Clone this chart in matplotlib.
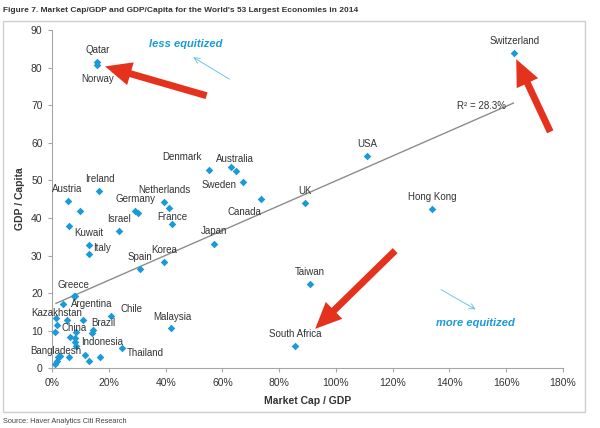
import numpy as np
import matplotlib
matplotlib.use("Agg")
import matplotlib.pyplot as plt
from matplotlib.patches import FancyArrowPatch, Rectangle

plt.rcParams['font.family'] = ['Liberation Sans', 'DejaVu Sans']

# market cap / GDP (%) and GDP per capita (k USD)
mcap_gdp = [15.9, 15.9, 162.9, 110.9, 89.1, 133.9, 90.7, 85.7, 73.7, 67.3,
            63.0, 64.7, 55.3, 57.1, 39.3, 31.0, 42.2, 39.4, 41.0, 29.2,
            30.1, 23.5, 16.6, 5.5, 9.8, 6.0, 13.0, 13.0, 7.7, 7.9,
            3.7, 1.2, 5.1, 10.8, 20.8, 1.5, 1.1, 8.4, 14.5, 14.1,
            6.4, 7.9, 7.9, 8.4, 24.5, 41.9, 11.6, 5.8, 16.9, 13.1,
            1.0, 1.5, 2.1, 2.7]
gdp_capita = [81.4, 80.7, 83.9, 56.4, 43.9, 42.4, 22.4, 5.9, 44.9, 49.5,
              53.6, 52.4, 52.7, 33.1, 28.3, 26.5, 38.4, 44.2, 42.7, 41.9,
              41.3, 36.6, 47.2, 44.4, 41.9, 37.8, 32.7, 30.5, 19.1, 19.3,
              17.1, 13.5, 12.8, 12.8, 13.9, 11.5, 9.7, 9.7, 10.2, 9.3,
              8.2, 8.1, 6.9, 6.0, 5.5, 10.6, 3.5, 3.0, 3.0, 1.9,
              1.1, 2.0, 2.9, 3.3]

# country labels and where they sit (data coords)
labels = {
    "Qatar": (15.9, 84.7), "Norway": (15.9, 76.9), "Switzerland": (162.9, 87.1),
    "USA": (110.9, 59.6), "UK": (89.1, 47.2), "Hong Kong": (133.9, 45.6),
    "Taiwan": (90.7, 25.5), "South Africa": (85.7, 9.2), "Canada": (67.6, 41.6),
    "Sweden": (58.8, 48.7), "Australia": (64.5, 55.6), "Denmark": (45.6, 56.3),
    "Japan": (57.1, 36.5), "Korea": (39.3, 31.5), "Spain": (30.9, 29.7),
    "France": (42.2, 40.3), "Netherlands": (39.5, 47.3), "Germany": (29.4, 44.9),
    "Israel": (23.5, 39.7), "Ireland": (16.6, 50.4), "Austria": (5.4, 47.6),
    "Kuwait": (12.9, 35.9), "Italy": (17.6, 31.9), "Greece": (7.5, 22.1),
    "Argentina": (13.9, 17.1), "Chile": (27.9, 15.8), "Kazakhstan": (1.5, 14.7),
    "Malaysia": (42.2, 13.6), "China": (7.8, 10.8), "Brazil": (18.0, 12.0),
    "Indonesia": (17.6, 7.1), "Thailand": (32.7, 4.0), "Bangladesh": (1.3, 4.5),
}

blue = "#1b9ad7"
red = "#e5321c"
txt = "#333333"
grey = "#a6a6a6"

fig = plt.figure(figsize=(6, 4.28), dpi=100)
ax = fig.add_axes([0.0872, 0.1395, 0.8507, 0.7906])

ax.scatter(mcap_gdp, gdp_capita, marker="D", s=15, color=blue, zorder=3, linewidths=0)

# linear trend
coef = np.polyfit(mcap_gdp, gdp_capita, 1)
xs = np.array([1.3, 162.6])
ax.plot(xs, np.polyval(coef, xs), color="#8c8c8c", lw=1, zorder=2)
ax.text(151.2, 69.8, "R\u00b2 = 28.3%", fontsize=7, color=txt, ha="center", va="center")

for name, (lx, ly) in labels.items():
    ax.text(lx, ly, name, fontsize=7, color=txt, ha="center", va="center")

# blue annotations
ax.text(47.1, 86.3, "less equitized", fontsize=8, color=blue, fontweight="bold",
        style="italic", ha="center", va="center")
ax.text(149.3, 12.1, "more equitized", fontsize=8, color=blue, fontweight="bold",
        style="italic", ha="center", va="center")
for (x0, y0), (x1, y1) in [((63.3, 76.5), (48.9, 83.1)), ((136.2, 21.3), (150.1, 15.3))]:
    ax.add_patch(FancyArrowPatch((x0, y0), (x1, y1), arrowstyle="->,head_length=4,head_width=2",
                                 color="#5bbbe8", lw=0.6, mutation_scale=1))

# red arrows
for (x0, y0), (x1, y1) in [((54.4, 72.5), (18.6, 80.3)), ((175.6, 62.9), (163.6, 82.2)),
                           ((120.9, 31.3), (92.7, 10.5))]:
    ax.add_patch(FancyArrowPatch((x0, y0), (x1, y1),
                                 arrowstyle="simple,head_length=19,head_width=17,tail_width=5",
                                 color=red, mutation_scale=1, lw=0, zorder=4, clip_on=False,
                                 shrinkA=0, shrinkB=0))

ax.set_xlim(0, 180)
ax.set_ylim(0, 90)
ax.set_xticks(range(0, 181, 20))
ax.set_xticklabels([f"{v}%" for v in range(0, 181, 20)])
ax.set_yticks(range(0, 91, 10))
for s in ["top", "right"]:
    ax.spines[s].set_visible(False)
for s in ["left", "bottom"]:
    ax.spines[s].set_color(grey)
    ax.spines[s].set_linewidth(0.8)
ax.tick_params(colors=grey, labelcolor=txt, labelsize=7.5, length=3, width=0.8, pad=4)
ax.set_xlabel("Market Cap / GDP", fontsize=7.5, fontweight="bold", color=txt, labelpad=6)
ax.set_ylabel("GDP / Capita", fontsize=7.5, fontweight="bold", color=txt, labelpad=4)

# frame and header/footer
fig.patches.append(Rectangle((3.3 / 600, 1 - 412.3 / 428), 581.4 / 600, 391.3 / 428,
                             transform=fig.transFigure, fill=False, ec="#cfcfcf", lw=1))
fig.text(3 / 600, 1 - 10 / 428, "Figure 7. Market Cap/GDP and GDP/Capita for the World's 53 Largest Economies in 2014",
         fontsize=6.05, fontweight="bold", color="#333333", ha="left", va="center")
fig.text(3 / 600, 1 - 421.7 / 428, "Source: Haver Analytics Citi Research", fontsize=5.3,
         color="#444444", ha="left", va="center")

fig.savefig("out.png", dpi=100)
